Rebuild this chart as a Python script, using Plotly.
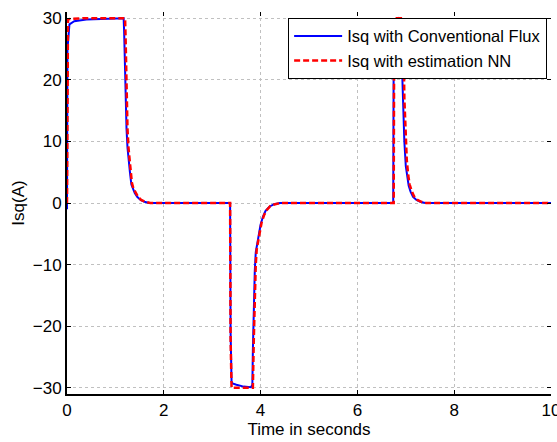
import plotly.graph_objects as go

# Blue: Isq with Conventional Flux
t_conv = [0, 0, 0.01, 0.05, 0.15, 0.4, 0.8, 1.17, 1.18, 1.19, 1.20, 1.21, 1.23, 1.25, 1.27, 1.30, 1.33, 1.36, 1.40, 1.45, 1.52, 1.60, 1.70,
          3.37, 3.38, 3.40, 3.42, 3.50, 3.65, 3.80, 3.83, 3.84, 3.86, 3.88, 3.90, 3.93, 3.96, 4.00, 4.05, 4.10, 4.18, 4.28, 4.40,
          6.74, 6.75, 6.77, 6.85, 6.92, 6.93, 6.95, 6.97, 7.00, 7.03, 7.06, 7.10, 7.15, 7.22, 7.30, 7.40, 10.0]
i_conv = [-1, 10, 25, 29, 29.5, 29.8, 29.9, 30, 28, 25, 20, 16, 12, 9, 7, 5, 3, 2.3, 1.6, 1, 0.5, 0.2, 0,
          0, -21, -29, -29.3, -29.5, -29.8, -29.9, -29.5, -24, -16, -11, -8, -6.5, -5, -3.5, -2.2, -1.3, -0.6, -0.2, 0,
          0, 25, 29.5, 30, 29.5, 20, 13, 10, 6, 4, 2.8, 1.8, 1, 0.5, 0.2, 0, 0]

# Red dashed: Isq with estimation NN
t_nn = [0, 0.005, 0.02, 0.1, 0.4, 0.8, 1.20, 1.21, 1.22, 1.23, 1.25, 1.27, 1.29, 1.31, 1.34, 1.37, 1.41, 1.46, 1.53, 1.62, 1.72,
        3.37, 3.38, 3.40, 3.50, 3.70, 3.84, 3.86, 3.88, 3.90, 3.92, 3.95, 3.98, 4.02, 4.07, 4.12, 4.20, 4.30, 4.42,
        6.75, 6.76, 6.78, 6.90, 6.95, 6.97, 6.99, 7.02, 7.05, 7.08, 7.12, 7.17, 7.24, 7.32, 7.42, 10.0]
i_nn = [0, 20, 29.8, 29.9, 30, 30, 30, 27, 22, 17, 12, 9, 7, 5, 3.3, 2.4, 1.7, 1.1, 0.5, 0.2, 0,
        0, -22, -30, -30, -30, -30, -22, -14, -10, -7.5, -6, -4.5, -3.2, -2, -1.2, -0.5, -0.2, 0,
        0, 28, 30, 30, 28, 17, 12, 7, 4.5, 3, 2, 1.1, 0.5, 0.2, 0, 0]

x_ticks = [0, 2, 4, 6, 8, 10]
y_ticks = [-30, -20, -10, 0, 10, 20, 30]

fig = go.Figure()
fig.add_trace(go.Scatter(x=t_conv, y=i_conv, mode="lines", name="Isq with Conventional Flux",
                         line=dict(color="#0000ff", width=2)))
fig.add_trace(go.Scatter(x=t_nn, y=i_nn, mode="lines", name="Isq with estimation NN",
                         line=dict(color="#ff0000", width=2.5, dash="6px,3px")))

font = dict(family="Liberation Sans, Arial, sans-serif", size=17, color="black")
grid = dict(showgrid=True, gridcolor="#c0c0c0", griddash="dot", gridwidth=1)

fig.update_layout(
    width=557, height=442,
    margin=dict(l=67, r=6, t=12, b=48),
    paper_bgcolor="white", plot_bgcolor="white",
    font=font,
    showlegend=True,
    legend=dict(x=0.992, y=0.985, xanchor="right", yanchor="top",
                bgcolor="white", bordercolor="black", borderwidth=1,
                font=dict(family="Liberation Sans, Arial, sans-serif", size=16.5, color="black"),
                tracegroupgap=0, itemwidth=48),
    xaxis=dict(range=[0, 10], tickvals=x_ticks, ticks="inside", ticklen=4, tickcolor="black",
               showline=True, linecolor="black", linewidth=2, zeroline=False, automargin=False,
               tickfont=font, ticklabeloverflow="allow",
               title=dict(text="Time in seconds", standoff=3, font=font), **grid),
    yaxis=dict(range=[-31, 31], tickvals=y_ticks, ticks="inside", ticklen=4, tickcolor="black",
               showline=True, linecolor="black", linewidth=2, zeroline=False, automargin=False,
               tickfont=font, ticklabeloverflow="allow",
               title=dict(text="Isq(A)", standoff=4, font=font), **grid),
    xaxis2=dict(range=[0, 10], tickvals=x_ticks, overlaying="x", side="top", ticks="inside",
                ticklen=4, tickcolor="black", showticklabels=False, showgrid=False,
                showline=False, zeroline=False, automargin=False),
    yaxis2=dict(range=[-31, 31], tickvals=y_ticks, overlaying="y", side="right", ticks="inside",
                ticklen=4, tickcolor="black", showticklabels=False, showgrid=False,
                showline=False, zeroline=False, automargin=False),
)
# invisible trace to activate mirrored axes
fig.add_trace(go.Scatter(x=[0], y=[0], xaxis="x2", yaxis="y2", mode="markers",
                         marker=dict(opacity=0), showlegend=False, hoverinfo="skip"))

fig.write_html("out.html", config={"displayModeBar": False},
               post_script="document.body.style.margin='0';document.body.style.overflow='hidden';")
